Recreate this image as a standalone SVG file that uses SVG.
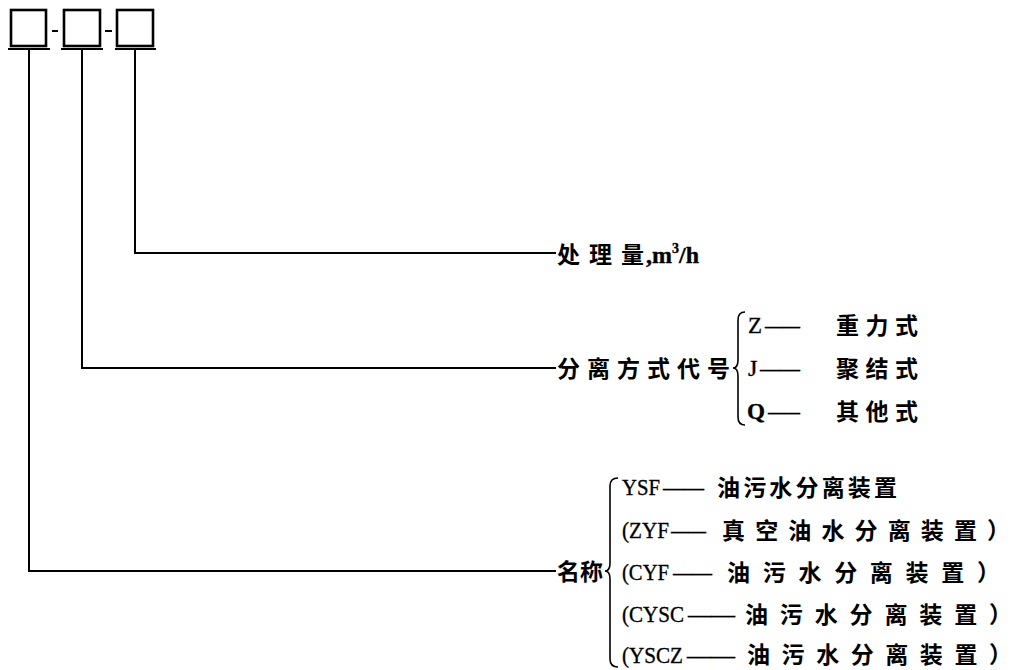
<svg xmlns="http://www.w3.org/2000/svg" width="1020" height="670" viewBox="0 0 1020 670">
<style>
.ln{stroke:#000;stroke-width:2;fill:none}
.bx{stroke:#000;stroke-width:2.6;fill:#fff}
.br{stroke:#000;stroke-width:1.6;fill:none}
.cj{font-family:"Noto Sans CJK SC","Liberation Sans",sans-serif;font-size:23px;font-weight:bold;fill:#000}
.la{font-family:"Liberation Serif","Noto Sans CJK SC",serif;font-size:24px;fill:#000;stroke:#000;stroke-width:0.35}
</style>
<rect width="1020" height="670" fill="#fff"/>
<g id="code-boxes">
<rect class="bx" x="11" y="10" width="35" height="36"/>
<rect class="bx" x="64" y="10" width="36" height="36"/>
<rect class="bx" x="117" y="10" width="36" height="36"/>
<line class="ln" x1="8" y1="49" x2="50" y2="49"/>
<line class="ln" x1="61" y1="49" x2="103" y2="49"/>
<line class="ln" x1="115" y1="49" x2="156" y2="49"/>
<line class="ln" x1="52" y1="31" x2="58" y2="31"/>
<line class="ln" x1="105" y1="31" x2="112" y2="31"/>
</g>
<g id="connectors">
<polyline class="ln" points="135,50 135,253 556,253"/>
<polyline class="ln" points="82,50 82,368 556,368"/>
<polyline class="ln" points="29,50 29,571 556,571"/>
</g>
<g id="node-capacity">
<text class="cj" x="557" y="263" textLength="87" lengthAdjust="spacing">处理量</text>
<text class="la" x="646" y="263" font-weight="bold">,m<tspan font-size="14" dy="-10">3</tspan><tspan dy="10">/h</tspan></text>
</g>
<g id="node-separation">
<text class="cj" x="557" y="377" textLength="173" lengthAdjust="spacing">分离方式代号</text>
<path class="br" d="M745 312 Q738 312 738 320 L738 360 Q738 368 733 368 Q738 368 738 376 L738 417 Q738 425 745 425"/>
<text class="la" x="748" y="333" textLength="14" lengthAdjust="spacingAndGlyphs">Z</text>
<text class="la" x="765" y="333" textLength="35" lengthAdjust="spacingAndGlyphs">——</text>
<text class="cj" x="836" y="334" textLength="82" lengthAdjust="spacing">重力式</text>
<text class="la" x="748" y="376">J</text>
<text class="la" x="760" y="376" textLength="40" lengthAdjust="spacingAndGlyphs">——</text>
<text class="cj" x="836" y="377" textLength="82" lengthAdjust="spacing">聚结式</text>
<text class="la" x="747" y="419" font-weight="bold" textLength="18" lengthAdjust="spacingAndGlyphs">Q</text>
<text class="la" x="768" y="419" textLength="32" lengthAdjust="spacingAndGlyphs">——</text>
<text class="cj" x="836" y="420" textLength="82" lengthAdjust="spacing">其他式</text>
</g>
<g id="node-name">
<text class="cj" x="557" y="580" textLength="46" lengthAdjust="spacing">名称</text>
<path class="br" d="M618 478 Q610 478 610 486 L610 563 Q610 571 605 571 Q610 571 610 579 L610 659 Q610 667 618 667"/>
<text class="la" x="622" y="495" textLength="38" lengthAdjust="spacingAndGlyphs">YSF</text>
<text class="la" x="663" y="495" textLength="41" lengthAdjust="spacingAndGlyphs">——</text>
<text class="cj" x="717" y="496" textLength="180" lengthAdjust="spacing">油污水分离装置</text>
<text class="la" x="622" y="538" textLength="47" lengthAdjust="spacingAndGlyphs">(ZYF</text>
<text class="la" x="671" y="538" textLength="35" lengthAdjust="spacingAndGlyphs">——</text>
<text class="cj" x="722" y="539" textLength="288" lengthAdjust="spacing">真空油水分离装置）</text>
<text class="la" x="622" y="580" textLength="47" lengthAdjust="spacingAndGlyphs">(CYF</text>
<text class="la" x="673" y="580" textLength="39" lengthAdjust="spacingAndGlyphs">——</text>
<text class="cj" x="727" y="581" textLength="273" lengthAdjust="spacing">油污水分离装置）</text>
<text class="la" x="622" y="622" textLength="62" lengthAdjust="spacingAndGlyphs">(CYSC</text>
<text class="la" x="688" y="622" textLength="47" lengthAdjust="spacingAndGlyphs">——</text>
<text class="cj" x="745" y="623" textLength="267" lengthAdjust="spacing">油污水分离装置）</text>
<text class="la" x="622" y="663" textLength="61" lengthAdjust="spacingAndGlyphs">(YSCZ</text>
<text class="la" x="687" y="663" textLength="48" lengthAdjust="spacingAndGlyphs">——</text>
<text class="cj" x="747" y="663" textLength="265" lengthAdjust="spacing">油污水分离装置）</text>
</g>
</svg>
